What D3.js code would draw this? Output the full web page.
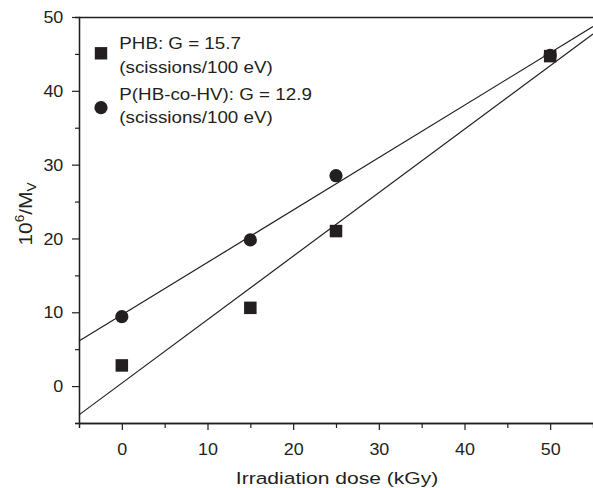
<!DOCTYPE html>
<html><head><meta charset="utf-8">
<script src="https://cdn.jsdelivr.net/npm/d3@7"></script>
<style>body{margin:0;background:#fff}text{font-family:Arial,"Liberation Sans",sans-serif;fill:#231f20}</style>
</head><body><svg id="c" width="593" height="488"></svg>
<script>
const doses = [0, 15, 25, 50];
const phbValues = [2.8, 10.6, 21.0, 44.7];
const phbvValues = [9.4, 19.8, 28.5, 44.8];
const phbFit = [[-5, -3.9], [55, 47.7]];
const phbvFit = [[-5, 6.1], [55, 48.7]];
const xTicks = [0, 10, 20, 30, 40, 50];
const yTicks = [0, 10, 20, 30, 40, 50];
const legendLabels = [["PHB: G = 15.7", "(scissions/100 eV)"], ["P(HB-co-HV): G = 12.9", "(scissions/100 eV)"]];

const ink = "#231f20";
const svg = d3.select("#c");
const m = {l: 79, r: 593, t: 17, b: 423};
const x = d3.scaleLinear().domain([-5, 55]).range([m.l, m.r]);
const y = d3.scaleLinear().domain([-5, 50]).range([m.b, m.t]);
const tickS = 1.12;

// top border
svg.append("line").attr("x1", m.l).attr("x2", m.r).attr("y1", m.t + 0.5).attr("y2", m.t + 0.5)
  .attr("stroke", ink).attr("stroke-width", 1.3);

// x axis
const gx = svg.append("g").attr("transform", `translate(0,${m.b})`);
gx.call(d3.axisBottom(x).tickValues(xTicks).tickSize(7).tickSizeOuter(0).tickFormat(d3.format("d")));
gx.append("g").call(d3.axisBottom(x).tickValues(d3.range(-5, 55, 10)).tickSize(5).tickFormat(""));
// y axis
const gy = svg.append("g").attr("transform", `translate(${m.l},0)`);
gy.call(d3.axisLeft(y).tickValues(yTicks).tickSize(7).tickSizeOuter(0).tickFormat(d3.format("d")));
gy.append("g").call(d3.axisLeft(y).tickValues(d3.range(-5, 50, 10)).tickSize(4).tickFormat(""));
svg.selectAll(".domain").attr("stroke", ink).attr("stroke-width", 1.3);
svg.selectAll(".tick line").attr("stroke", ink).attr("stroke-width", 1.2);
svg.selectAll(".tick text").attr("font-size", 16).style("font-family", "Arial, 'Liberation Sans', sans-serif").attr("fill", ink)
  .attr("transform", `scale(${tickS},1)`);
gx.selectAll(".tick text").attr("y", 32).attr("dy", 0);
gy.selectAll(".tick text").attr("x", -15.7 / tickS).attr("dy", "0.35em");

// fit lines
const line = d3.line().x(d => x(d[0])).y(d => y(d[1]));
[phbFit, phbvFit].forEach(f => svg.append("path").attr("d", line(f)).attr("fill", "none")
  .attr("stroke", ink).attr("stroke-width", 1.2));

// points
svg.selectAll("circle.pt").data(doses.map((d, i) => [d, phbvValues[i]])).join("circle")
  .attr("class", "pt").attr("cx", d => x(d[0])).attr("cy", d => y(d[1])).attr("r", 6.6).attr("fill", ink);
const s = 12.5;
svg.selectAll("rect.pt").data(doses.map((d, i) => [d, phbValues[i]])).join("rect")
  .attr("class", "pt").attr("x", d => x(d[0]) - s / 2).attr("y", d => y(d[1]) - s / 2)
  .attr("width", s).attr("height", s).attr("fill", ink);

// legend
svg.append("rect").attr("x", 101 - 6.2).attr("y", 53.3 - 6.2).attr("width", 12.4).attr("height", 12.4).attr("fill", ink);
svg.append("circle").attr("cx", 101).attr("cy", 107.7).attr("r", 6.6).attr("fill", ink);
const lb = [49.3, 100];
legendLabels.forEach((lines, i) => {
  lines.forEach((t, j) => svg.append("text")
    .attr("transform", `translate(119.3,${lb[i] + j * 23.2}) scale(1.16,1)`)
    .attr("font-size", 16.2).text(t));
});

// axis labels
svg.append("text").attr("transform", "translate(337,484) scale(1.24,1)")
  .attr("text-anchor", "middle").attr("font-size", 17).text("Irradiation dose (kGy)");
const yl = svg.append("text").attr("transform", "translate(32,214) rotate(-90) scale(1.13,1)")
  .attr("text-anchor", "middle").attr("font-size", 18.5);
yl.append("tspan").text("10");
yl.append("tspan").attr("font-size", 12).attr("dy", -8).text("6");
yl.append("tspan").attr("dy", 8).text("/M");
yl.append("tspan").attr("font-size", 12).attr("dy", 4).text("V");
</script></body></html>
